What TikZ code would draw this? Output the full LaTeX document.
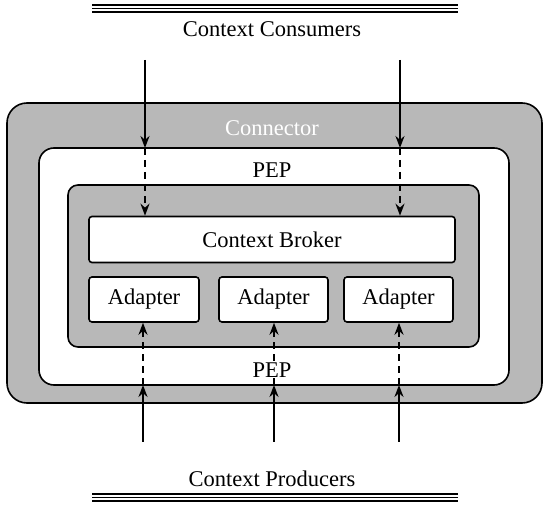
\documentclass[tikz,border=0pt]{standalone}
\usepackage{fontspec}
\setmainfont{Liberation Serif}
\usetikzlibrary{arrows.meta}
\definecolor{conngray}{HTML}{B8B8B8}
\tikzset{
  x=1pt, y=-1pt,
  box/.style={draw=black, line width=1.6pt},
  lbl/.style={font=\fontsize{22.5}{26}\selectfont, inner sep=0pt},
  solidarr/.style={line width=2pt, -{Stealth[length=12pt,width=9pt]}},
  dasharr/.style={line width=2pt, dash pattern=on 7pt off 5pt, -{Stealth[length=12pt,width=9pt]}},
  rule/.style={line width=1.8pt},
}
\begin{document}
\begin{tikzpicture}
\useasboundingbox (0,0) rectangle (550,508);
% top and bottom triple lines
\foreach \yy in {5,8.5,12} \draw[rule] (92,\yy) -- (458,\yy);
\foreach \yy in {494,497.5,501} \draw[rule] (92,\yy) -- (458,\yy);
\node[lbl] (consumers) at (272,29) {Context Consumers};
\node[lbl] (producers) at (272,479) {Context Producers};
% boxes
\draw[box, fill=conngray, rounded corners=20pt] (7,103) rectangle (542,403);
\node[lbl, text=white] (connector) at (272,128) {Connector};
\draw[box, fill=white, rounded corners=15pt] (39,148) rectangle (509,385);
\node[lbl] (peptop) at (272,170) {PEP};
\draw[box, fill=conngray, rounded corners=10pt] (68,185) rectangle (479,347);
\node[box, fill=white, rounded corners=3pt, minimum width=366pt, minimum height=46pt, lbl] (broker) at (272,239.5) {Context Broker};
\node[box, fill=white, rounded corners=3pt, minimum width=110pt, minimum height=45pt, lbl] (ad1) at (144,299.5) {Adapter};
\node[box, fill=white, rounded corners=3pt, minimum width=109pt, minimum height=45pt, lbl] (ad2) at (273.5,299.5) {Adapter};
\node[box, fill=white, rounded corners=3pt, minimum width=109pt, minimum height=45pt, lbl] (ad3) at (398.5,299.5) {Adapter};
% arrow coordinates
\coordinate (c1) at (145,60);
\coordinate (c2) at (400,60);
\coordinate (m1) at (145,148);
\coordinate (m2) at (400,148);
\coordinate (p1) at (143,442);
\coordinate (p2) at (274,442);
\coordinate (p3) at (399,442);
\coordinate (q1) at (143,385);
\coordinate (q2) at (274,385);
\coordinate (q3) at (399,385);
% consumer arrows
\draw[solidarr] (c1) -- (m1);
\draw[solidarr] (c2) -- (m2);
\draw[dasharr] (m1) -- (broker.north -| m1);
\draw[dasharr] (m2) -- (broker.north -| m2);
% producer arrows
\draw[solidarr] (p1) -- (q1);
\draw[solidarr] (p2) -- (q2);
\draw[solidarr] (p3) -- (q3);
\draw[dasharr] (q1) -- (ad1.south -| q1);
\draw[dasharr] (q2) -- (ad2.south -| q2);
\draw[dasharr] (q3) -- (ad3.south -| q3);
\node[lbl, fill=white, inner sep=1pt] (pepbot) at (272,370) {PEP};
\end{tikzpicture}
\end{document}
